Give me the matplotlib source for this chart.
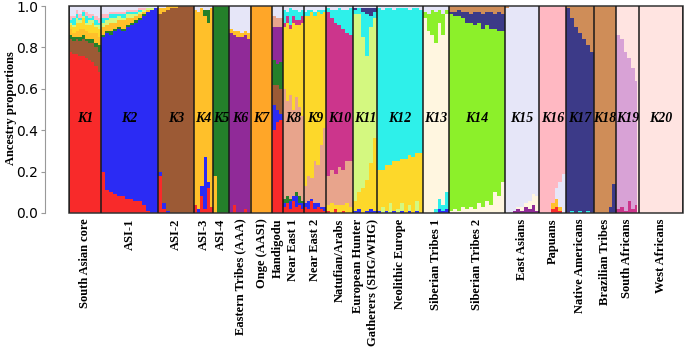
"""
Ancestry proportions (K = 20) across reference groups.
"""

import matplotlib.pyplot as plt
from matplotlib.patches import Rectangle

# ── Data ────────────────────────────────────────────────────────────────────
group_labels = [
    "South Asian core", "ASI-1", "ASI-2", "ASI-3", "ASI-4",
    "Eastern Tribes (AAA)", "Onge (AASI)", "Handigodu", "Near East 1",
    "Near East 2", "Natufian/Arabs", "European Hunter\nGatherers (SHG/WHG)",
    "Neolithic Europe", "Siberian Tribes 1", "Siberian Tribes 2",
    "East Asians", "Papuans", "Native Americans", "Brazilian Tribes",
    "South Africans", "West Africans",
]
group_sizes = [32, 57, 36, 19, 16, 22, 21, 11, 21, 22, 27, 24, 46, 26, 56,
               34, 27, 28, 22, 23, 44]
k_labels = ["K1", "K2", "K3", "K4", "K5", "K6", "K7", "", "K8", "K9", "K10",
            "K11", "K12", "K13", "K14", "K15", "K16", "K17", "K18", "K19",
            "K20"]

k_colors = {
    "K1": "#f82a2a", "K2": "#2b2bf4", "K3": "#9c5a35", "K4": "#ffc02a",
    "K5": "#24802a", "K6": "#902a98", "K7": "#ffa628", "K8": "#e8a48c",
    "K9": "#fdd82a", "K10": "#cc358c", "K11": "#d4f880", "K12": "#2ef0ea",
    "K13": "#fff6e0", "K14": "#8cf02a", "K15": "#e6e6f8", "K16": "#ffb8c2",
    "K17": "#3c3a88", "K18": "#cf8d58", "K19": "#d8a2d6", "K20": "#ffe4e1",
}

# each group: layers stacked bottom -> top, None = remainder of the column
south_asian_core = [
    ("K1", [0.78, 0.77, 0.77, 0.76, 0.76, 0.75, 0.74, 0.73, 0.71, 0.68]),
    ("K3", [0.06, 0.06, 0.07, 0.07, 0.08, 0.08, 0.08, 0.09, 0.09, 0.10]),
    ("K5", [0.02, 0.02, 0.01, 0.02, 0.02, 0.01, 0.02, 0.02, 0.02, 0.03]),
    ("K4", [0.03, 0.02, 0.03, 0.04, 0.03, 0.04, 0.03, 0.03, 0.05, 0.04]),
    ("K9", [0.02, 0.03, 0.04, 0.03, 0.05, 0.03, 0.04, 0.05, 0.03, 0.04]),
    ("K11", [0.01, 0.01, 0.02, 0.01, 0.01, 0.01, 0.02, 0.01, 0.01, 0.02]),
    ("K12", [0.01, 0.03, 0.02, 0.01, 0.02, 0.03, 0.01, 0.02, 0.02, 0.01]),
    ("K16", [0.02, 0.01, 0.02, 0.02, 0.01, 0.02, 0.02, 0.01, 0.02, 0.02]),
    ("K15", None),
]
asi_1 = [
    ("K1", [0.20, 0.11, 0.10, 0.09, 0.08, 0.08, 0.07, 0.07, 0.06, 0.06, 0.04, 0.01, 0.0, 0.0]),
    ("K2", None),
    ("K5", [0.01, 0.01, 0.02, 0.01, 0.01, 0.01, 0.01, 0.01, 0.01, 0.01, 0.01, 0.0, 0.0, 0.0]),
    ("K4", [0.04, 0.03, 0.04, 0.03, 0.03, 0.04, 0.03, 0.02, 0.02, 0.02, 0.01, 0.01, 0.0, 0.0]),
    ("K11", [0.02, 0.02, 0.02, 0.02, 0.02, 0.01, 0.02, 0.02, 0.01, 0.01, 0.01, 0.01, 0.01, 0.0]),
    ("K12", [0.02, 0.01, 0.02, 0.02, 0.01, 0.02, 0.01, 0.01, 0.01, 0.01, 0.0, 0.0, 0.0, 0.0]),
    ("K16", [0.02, 0.02, 0.01, 0.01, 0.01, 0.01, 0.01, 0.01, 0.01, 0.01, 0.01, 0.0, 0.0, 0.0]),
    ("K15", [0.04, 0.04, 0.03, 0.03, 0.03, 0.03, 0.02, 0.02, 0.02, 0.01, 0.01, 0.01, 0.01, 0.01]),
]
asi_2 = [
    ("K1", [0.18, 0.02, 0.0, 0.0, 0.0, 0.0, 0.0, 0.0, 0.0]),
    ("K2", [0.02, 0.03, 0.01, 0.0, 0.0, 0.0, 0.0, 0.0, 0.0]),
    ("K3", None),
    ("K4", [0.03, 0.02, 0.02, 0.01, 0.01, 0.0, 0.0, 0.0, 0.0]),
    ("K15", [0.01, 0.01, 0.0, 0.0, 0.0, 0.0, 0.0, 0.0, 0.0]),
]
asi_3 = [
    ("K1", [0.04, 0.0, 0.08, 0.02, 0.12, 0.03]),
    ("K2", [0.0, 0.02, 0.05, 0.25, 0.03, 0.0]),
    ("K4", None),
    ("K5", [0.0, 0.0, 0.0, 0.03, 0.06, 0.0]),
    ("K15", [0.02, 0.03, 0.01, 0.02, 0.02, 0.01]),
]
asi_4 = [
    ("K4", [0.18, 0.0, 0.0, 0.0]),
    ("K5", None),
]
eastern_tribes = [
    ("K1", [0.0, 0.04, 0.0, 0.0, 0.02, 0.0]),
    ("K6", None),
    ("K4", [0.02, 0.02, 0.03, 0.02, 0.02, 0.03]),
    ("K15", [0.11, 0.12, 0.12, 0.13, 0.12, 0.13]),
]
onge = [("K7", None)]
handigodu = [
    ("K1", [0.40, 0.44, 0.45]),
    ("K2", [0.12, 0.06, 0.03]),
    ("K3", [0.10, 0.12, 0.12]),
    ("K5", [0.12, 0.10, 0.13]),
    ("K6", [0.16, 0.18, 0.17]),
    ("K8", [0.05, 0.04, 0.04]),
    ("K15", None),
]
near_east_1 = [
    ("K1", [0.03, 0.05, 0.02, 0.06, 0.03, 0.04, 0.02]),
    ("K2", [0.02, 0.0, 0.04, 0.02, 0.05, 0.01, 0.03]),
    ("K5", [0.02, 0.03, 0.01, 0.0, 0.02, 0.03, 0.01]),
    ("K8", None),
    ("K9", [0.30, 0.38, 0.32, 0.42, 0.35, 0.40, 0.45]),
    ("K10", [0.02, 0.03, 0.02, 0.03, 0.02, 0.02, 0.03]),
    ("K12", [0.06, 0.02, 0.08, 0.03, 0.05, 0.04, 0.03]),
    ("K15", [0.02, 0.03, 0.01, 0.02, 0.02, 0.03, 0.02]),
]
near_east_2 = [
    ("K1", [0.03, 0.02, 0.06, 0.02, 0.03, 0.02, 0.01]),
    ("K2", [0.02, 0.04, 0.01, 0.03, 0.02, 0.01, 0.02]),
    ("K8", [0.08, 0.12, 0.10, 0.20, 0.18, 0.30, 0.38]),
    ("K9", None),
    ("K12", [0.02, 0.03, 0.01, 0.02, 0.01, 0.02, 0.01]),
    ("K15", [0.03, 0.02, 0.02, 0.03, 0.02, 0.02, 0.02]),
]
natufian = [
    ("K1", [0.01, 0.0, 0.02, 0.0, 0.01, 0.0, 0.0]),
    ("K9", [0.03, 0.05, 0.02, 0.04, 0.03, 0.05, 0.03]),
    ("K8", [0.14, 0.16, 0.15, 0.18, 0.17, 0.20, 0.22]),
    ("K10", None),
    ("K12", [0.02, 0.04, 0.06, 0.08, 0.09, 0.11, 0.13]),
    ("K15", [0.01, 0.02, 0.02, 0.01, 0.02, 0.02, 0.01]),
]
euro_hg = [
    ("K2", [0.01, 0.02, 0.0, 0.01, 0.02, 0.01]),
    ("K9", [0.05, 0.08, 0.12, 0.15, 0.22, 0.35]),
    ("K11", None),
    ("K12", [0.02, 0.03, 0.12, 0.20, 0.05, 0.03]),
    ("K17", [0.01, 0.0, 0.02, 0.03, 0.04, 0.02]),
    ("K15", [0.01, 0.01, 0.01, 0.01, 0.01, 0.01]),
]
neolithic_europe = [
    ("K2", [0.01, 0.0, 0.01, 0.0, 0.01, 0.0, 0.01, 0.0, 0.01, 0.0, 0.01, 0.0]),
    ("K11", [0.0, 0.03, 0.0, 0.05, 0.0, 0.02, 0.04, 0.0, 0.03, 0.0, 0.05, 0.0]),
    ("K9", [0.20, 0.18, 0.22, 0.18, 0.24, 0.23, 0.21, 0.26, 0.24, 0.27, 0.23, 0.29]),
    ("K12", None),
    ("K15", [0.01, 0.02, 0.01, 0.01, 0.02, 0.01, 0.01, 0.01, 0.02, 0.01, 0.01, 0.02]),
]
siberian_1 = [
    ("K2", [0.0, 0.0, 0.0, 0.0, 0.02, 0.01, 0.02]),
    ("K12", [0.0, 0.0, 0.0, 0.02, 0.05, 0.03, 0.08]),
    ("K13", None),
    ("K14", [0.03, 0.08, 0.12, 0.15, 0.06, 0.10, 0.02]),
    ("K15", [0.03, 0.04, 0.02, 0.03, 0.02, 0.04, 0.02]),
]
siberian_2 = [
    ("K13", [0.01, 0.02, 0.01, 0.03, 0.02, 0.03, 0.02, 0.05, 0.03, 0.06, 0.04, 0.10, 0.08, 0.15]),
    ("K14", None),
    ("K17", [0.01, 0.02, 0.03, 0.03, 0.05, 0.04, 0.06, 0.05, 0.07, 0.06, 0.08, 0.07, 0.09, 0.08]),
    ("K18", [0.03, 0.03, 0.02, 0.03, 0.03, 0.04, 0.03, 0.03, 0.04, 0.03, 0.03, 0.04, 0.03, 0.04]),
]
east_asians = [
    ("K6", [0.0, 0.0, 0.01, 0.02, 0.01, 0.03, 0.02, 0.04, 0.01]),
    ("K13", [0.0, 0.0, 0.0, 0.01, 0.02, 0.02, 0.04, 0.05, 0.07]),
    ("K15", None),
    ("K18", [0.01, 0.0, 0.0, 0.0, 0.0, 0.0, 0.0, 0.0, 0.0]),
]
papuans = [
    ("K1", [0.0, 0.0, 0.0, 0.02, 0.03, 0.01, 0.0]),
    ("K4", [0.0, 0.0, 0.0, 0.03, 0.04, 0.02, 0.0]),
    ("K15", [0.0, 0.0, 0.0, 0.0, 0.05, 0.12, 0.19]),
    ("K16", None),
]
native_americans = [
    ("K12", [0.0, 0.01, 0.0, 0.01, 0.0, 0.01, 0.0]),
    ("K17", None),
    ("K18", [0.01, 0.06, 0.10, 0.13, 0.16, 0.19, 0.22]),
]
brazilian_tribes = [
    ("K17", [0.0, 0.0, 0.0, 0.0, 0.03, 0.14]),
    ("K18", None),
]
south_africans = [
    ("K10", [0.02, 0.03, 0.01, 0.06, 0.02, 0.04]),
    ("K19", None),
    ("K20", [0.14, 0.16, 0.22, 0.25, 0.30, 0.36]),
]
west_africans = [("K20", None)]

groups = [south_asian_core, asi_1, asi_2, asi_3, asi_4, eastern_tribes, onge,
          handigodu, near_east_1, near_east_2, natufian, euro_hg,
          neolithic_europe, siberian_1, siberian_2, east_asians, papuans,
          native_americans, brazilian_tribes, south_africans, west_africans]

# ── Chart ───────────────────────────────────────────────────────────────────
serif = ["Liberation Serif", "DejaVu Serif"]
fig = plt.figure(figsize=(6.85, 3.49), dpi=100)
ax = fig.add_axes([69 / 685, 136 / 349, 614 / 685, 207 / 349])

edges = [0]
for size in group_sizes:
    edges.append(edges[-1] + size)

for g, (layers, size) in enumerate(zip(groups, group_sizes)):
    n = max([len(v) for _, v in layers if v is not None] + [1])
    w = size / n
    xs = [edges[g] + (i + 0.5) * w for i in range(n)]
    known = [sum(v[i] for _, v in layers if v is not None) for i in range(n)]
    bottom = [0.0] * n
    for k, vals in layers:
        if vals is None:
            vals = [1.0 - s for s in known]
        # slight overlap so neighbouring columns leave no seams
        ax.bar(xs, vals, width=w * 1.08, bottom=bottom, color=k_colors[k],
               linewidth=0, antialiased=False)
        bottom = [b + v for b, v in zip(bottom, vals)]

# group frames
for x in edges:
    ax.axvline(x, color="#1a1a1a", lw=1.1)
ax.add_patch(Rectangle((0, 0), edges[-1], 1, fill=False, ec="#333333",
                       lw=1.1, clip_on=False))

# K labels
centers = [(a + b) / 2 for a, b in zip(edges[:-1], edges[1:])]
for cx, lab in zip(centers, k_labels):
    ax.text(cx, 0.455, lab, ha="center", va="center", fontsize=10,
            fontweight="bold", fontstyle="italic", family=serif)

ax.set_xlim(0, edges[-1])
ax.set_ylim(0, 1)
ax.set_xticks(centers)
ax.set_xticklabels(group_labels, rotation=90, ha="center", va="top",
                   multialignment="right", fontsize=9, fontweight="bold",
                   family=serif)
ax.tick_params(axis="x", length=0, pad=4)

ax.set_yticks([0.0, 0.2, 0.4, 0.6, 0.8, 1.0])
ax.set_yticklabels(["0.0", "0.2", "0.4", "0.6", "0.8", "1.0"], fontsize=8.5,
                   fontweight="bold", family=serif)
ax.tick_params(axis="y", length=3, width=0.8, color="#999999", pad=2)
for side in ["top", "right", "bottom"]:
    ax.spines[side].set_visible(False)
ax.spines["left"].set_position(("outward", 17.3))
ax.spines["left"].set_color("#999999")
ax.spines["left"].set_linewidth(0.8)

fig.text(11 / 685, 1 - 108 / 349, "Ancestry proportions", rotation=90,
         ha="center", va="center", fontsize=9, fontweight="bold", family=serif)

fig.savefig("out.png", dpi=100)
